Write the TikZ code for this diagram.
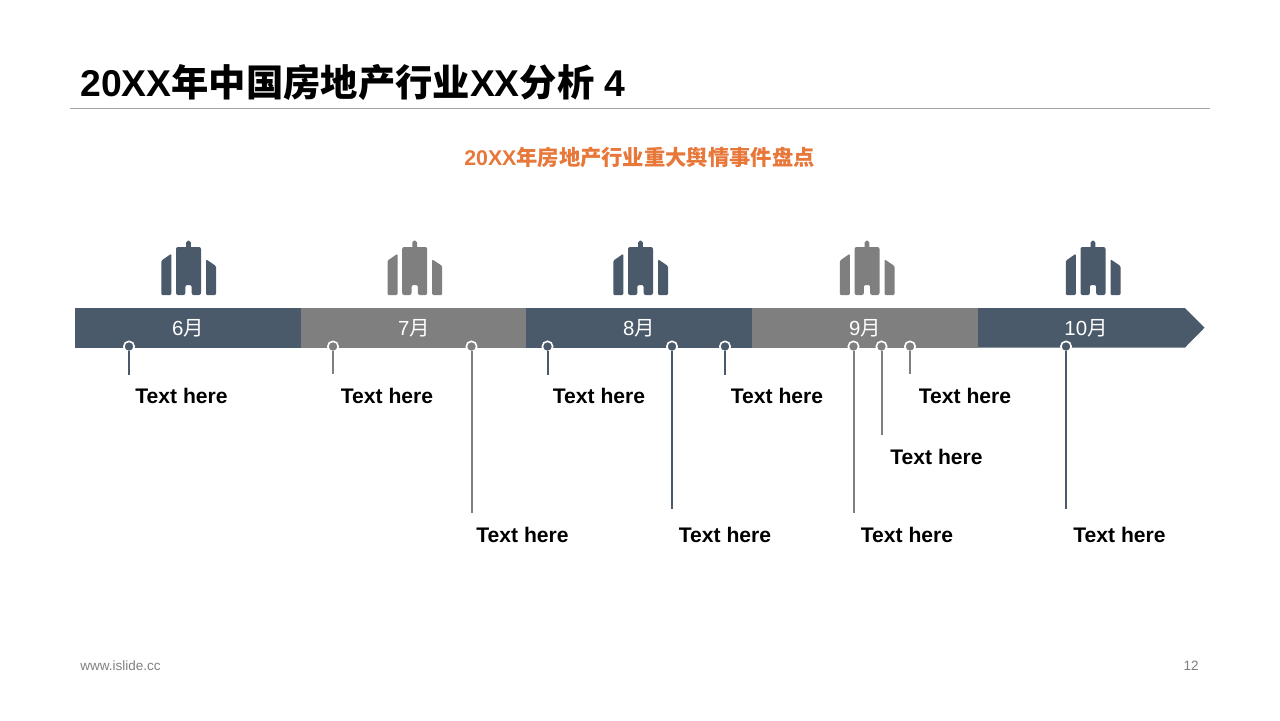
\documentclass[tikz,border=0pt]{standalone}
\usepackage{fontspec}
\setmainfont{Liberation Sans}
\newfontfamily\cjk{Noto Sans CJK SC}
\definecolor{barblue}{HTML}{4A5A6A}
\definecolor{bargray}{HTML}{7F7F7F}
\definecolor{headorange}{HTML}{E8773A}
\definecolor{footgray}{HTML}{808080}
\definecolor{rulegray}{HTML}{A6A6A6}
\tikzset{
  x=0.5pt,y=-0.5pt,
  seglabel/.style={text=white,inner sep=0pt,font=\fontsize{10.2}{12}\selectfont},
  tag/.style={anchor=west,inner sep=0pt,font=\bfseries\fontsize{10.55}{12.5}\selectfont},
  foot/.style={inner sep=0pt,text=footgray,font=\fontsize{6.75}{8}\selectfont},
  pindot/.style={circle,draw=white,line width=0.8pt,minimum size=5.2pt,inner sep=0pt},
  pinline/.style={line width=1pt,shorten <=-1pt},
  pics/tower/.style={code={
    \fill[#1,rounded corners=1pt] (-12.5,295) -- (-12.5,247) -- (12.5,247) -- (12.5,295) -- (3.2,295) -- (3.2,285) -- (-3.2,285) -- (-3.2,295) -- cycle;
    \fill[#1,rounded corners=0.8pt] (-2.3,249) -- (-2.3,240.7) -- (2.3,240.7) -- (2.3,249) -- cycle;
    \fill[#1,rounded corners=0.6pt] (-27.2,295) -- (-27.2,260.7) -- (-17.2,253.7) -- (-17.2,295) -- cycle;
    \fill[#1,rounded corners=0.6pt] (17.5,295) -- (17.5,259.3) -- (27.5,266) -- (27.5,295) -- cycle;
  }}
}
\begin{document}
\begin{tikzpicture}
\path[use as bounding box,fill=white] (0,0) rectangle (1280,720);
% heading
\node[anchor=west,inner sep=0pt,font=\bfseries\fontsize{18.65}{22}\selectfont] (title) at (80,82.5) {20XX{\cjk 年中国房地产行业}XX{\cjk 分析} 4};
\coordinate (ruleL) at (70,108.5);
\coordinate (ruleR) at (1210,108.5);
\draw[rulegray,line width=0.5pt] (ruleL) -- (ruleR);
\node[inner sep=0pt,text=headorange,font=\bfseries\fontsize{10.65}{13}\selectfont] (sub) at (639.5,157) {20XX{\cjk 年房地产行业重大舆情事件盘点}};
% bar
\fill[barblue] (75,308) rectangle (301,347.5);
\fill[bargray] (301,308) rectangle (526,347.5);
\fill[barblue] (526,308) rectangle (752,347.5);
\fill[bargray] (752,308) rectangle (978,347.5);
\fill[barblue] (978,308) -- (1185,308) -- (1204.5,327.7) -- (1185,347.5) -- (978,347.5) -- cycle;
\node[seglabel] (m6) at (188,328) {6{\cjk 月}};
\node[seglabel] (m7) at (414,328) {7{\cjk 月}};
\node[seglabel] (m8) at (639,328) {8{\cjk 月}};
\node[seglabel] (m9) at (865,328) {9{\cjk 月}};
\node[seglabel] (m10) at (1086,328) {10{\cjk 月}};
% icons
\pic at (188.5,0) {tower=barblue};
\pic at (414.7,0) {tower=bargray};
\pic at (640.5,0) {tower=barblue};
\pic at (867,0) {tower=bargray};
\pic at (1093,0) {tower=barblue};
% pins
\foreach \n/\x/\yy/\c in {a/129/375/barblue,b/333/374/bargray,c/471.5/513/bargray,d/547.5/375/barblue,e/672/509/barblue,f/725/375/barblue,g/853.5/513/bargray,h/881.5/435/bargray,i/910/374/bargray,j/1066/509/barblue}{
  \node[pindot,fill=\c] (p\n) at (\x,346.5) {};
  \coordinate (q\n) at (\x,\yy);
  \draw[\c,pinline] (p\n) -- (q\n);
}
% labels
\node[tag] (ta) at (135,395.5) {Text here};
\node[tag] (tb) at (340.5,395.5) {Text here};
\node[tag] (tc) at (476,535) {Text here};
\node[tag] (td) at (552.5,395.5) {Text here};
\node[tag] (te) at (678.5,535) {Text here};
\node[tag] (tf) at (730.5,395.5) {Text here};
\node[tag] (tg) at (860.5,535) {Text here};
\node[tag] (th) at (890,456.5) {Text here};
\node[tag] (ti) at (918.5,395.5) {Text here};
\node[tag] (tj) at (1073,535) {Text here};
% footer
\node[foot,anchor=west] (web) at (80,666) {www.islide.cc};
\node[foot,anchor=east] (page) at (1199,666) {12};
\end{tikzpicture}
\end{document}
